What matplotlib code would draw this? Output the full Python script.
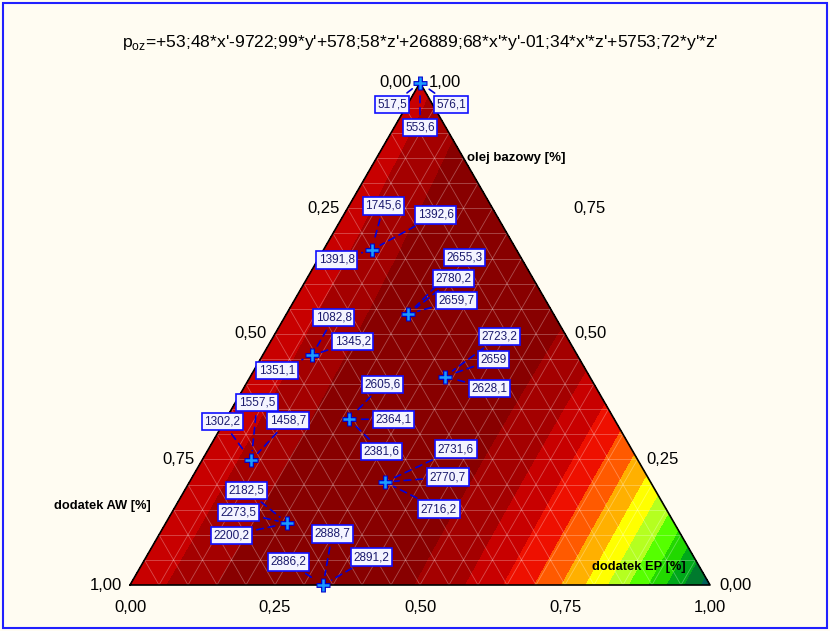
import numpy as np
import matplotlib
matplotlib.use("Agg")
import matplotlib.pyplot as plt
from matplotlib.tri import Triangulation
from matplotlib.patches import Rectangle

plt.rcParams["font.family"] = ["Liberation Sans", "DejaVu Sans"]
plt.rcParams["mathtext.fontset"] = "custom"
plt.rcParams["mathtext.rm"] = "Liberation Sans"

# design points: fractions of dodatek AW, dodatek EP, olej bazowy
aw = [0.0, 0.25, 0.25, 0.25, 0.458, 0.458, 0.667, 0.458, 0.667, 0.667]
ep = [0.0, 0.083, 0.21, 0.335, 0.085, 0.212, 0.085, 0.337, 0.21, 0.333]
oil = [1.0, 0.667, 0.54, 0.415, 0.457, 0.33, 0.248, 0.205, 0.123, 0.0]

# measured p_oz, three replicates per point
p_oz = [
    [517.5, 576.1, 553.6],
    [1745.6, 1392.6, 1391.8],
    [2655.3, 2780.2, 2659.7],
    [2723.2, 2659.0, 2628.1],
    [1082.8, 1345.2, 1351.1],
    [2605.6, 2364.1, 2381.6],
    [1557.5, 1458.7, 1302.2],
    [2731.6, 2770.7, 2716.2],
    [2182.5, 2273.5, 2200.2],
    [2888.7, 2886.2, 2891.2],
]

tick_values = [0.0, 0.25, 0.5, 0.75, 1.0]
levels = np.arange(-10000, 4001, 1000)
band_colors = ["#00605A", "#007A2E", "#00A81A", "#22D800", "#55FF00", "#B5FF20",
               "#FFFF00", "#FFB000", "#FF5A00", "#EE1000", "#C80000", "#A40000",
               "#880000", "#780000"]

# label box placement, pixels (right, down) from the marker
label_offsets = [
    [(-28, 22), (31, 22), (0, 45)],
    [(12, -44), (64, -35), (-35, 10)],
    [(56, -56), (45, -35), (48, -13)],
    [(55, -40), (49, -17), (45, 12)],
    [(22, -38), (41, -14), (-35, 15)],
    [(34, -35), (45, 0), (33, 32)],
    [(6, -58), (37, -40), (-29, -39)],
    [(71, -33), (63, -5), (54, 27)],
    [(-41, -33), (-49, -11), (-56, 12)],
    [(9, -51), (-35, -23), (48, -28)],
]

H = np.sqrt(3) / 2
S = 580.0  # pixels per unit side


def cart(a, e, o):
    a, e, o = np.asarray(a), np.asarray(e), np.asarray(o)
    return e + o / 2, o * H


def px(x, y):
    # figure pixel (from top-left) -> data coords
    return (x - 130) / S, (585 - y) / S


# quadratic Scheffe model fitted to the replicates
A, E, O, Y = [], [], [], []
for a, e, o, vals in zip(aw, ep, oil, p_oz):
    for v in vals:
        A.append(a); E.append(e); O.append(o); Y.append(v)
A, E, O, Y = map(np.array, (A, E, O, Y))
X = np.column_stack([A, E, O, A * E, A * O, E * O])
coef, *_ = np.linalg.lstsq(X, Y, rcond=None)

n = 20
ga, ge, go = [], [], []
for i in range(n + 1):
    for j in range(n + 1 - i):
        ge.append(i / n); go.append(j / n); ga.append(1 - i / n - j / n)
ga, ge, go = map(np.array, (ga, ge, go))
gz = np.column_stack([ga, ge, go, ga * ge, ga * go, ge * go]) @ coef
gx, gy = cart(ga, ge, go)
tri = Triangulation(gx, gy)

fig = plt.figure(figsize=(8.3, 6.31), dpi=100, facecolor="#FFFCF2")
ax = fig.add_axes([0, 0, 1, 1])
ax.set_facecolor("#FFFCF2")
ax.set_xlim(-130 / S, 700 / S)
ax.set_ylim((585 - 631) / S, 585 / S)
ax.axis("off")

ax.tricontourf(tri, np.clip(gz, -9999, 3999), levels=levels, colors=band_colors)

# grid
for t in np.arange(0.05, 1.0, 0.05):
    for p, q in [(cart(t, 0, 1 - t), cart(t, 1 - t, 0)),
                 (cart(0, t, 1 - t), cart(1 - t, t, 0)),
                 (cart(0, 1 - t, t), cart(1 - t, 0, t))]:
        ax.plot([p[0], q[0]], [p[1], q[1]], color="white", alpha=0.3, lw=0.6)

cx, cy = cart([1, 0, 0, 1], [0, 1, 0, 0], [0, 0, 1, 0])
ax.plot(cx, cy, color="black", lw=1.2)

# tick labels
for t in tick_values:
    lab = f"{t:.2f}".replace(".", ",")
    ax.annotate(lab, cart(t, 0, 1 - t), xytext=(-8, 0), textcoords="offset pixels",
                ha="right", va="center", fontsize=12)
    dx = 81 if t == 0.75 else 9
    ax.annotate(lab, cart(0, 1 - t, t), xytext=(dx, 0), textcoords="offset pixels",
                ha="left", va="center", fontsize=12)
    ax.annotate(lab, cart(1 - t, t, 0), xytext=(0, -22), textcoords="offset pixels",
                ha="center", va="center", fontsize=12)

ax.text(*px(467, 158), "olej bazowy [%]", fontsize=9.5, fontweight="bold", ha="left", va="center")
ax.text(*px(151, 506), "dodatek AW [%]", fontsize=9.3, fontweight="bold", ha="right", va="center")
ax.text(*px(592, 567), "dodatek EP [%]", fontsize=9.3, fontweight="bold", ha="left", va="center")

fig.text(0.506, 1 - 42 / 631,
         r"p$_{\mathrm{oz}}$=+53;48*x'-9722;99*y'+578;58*z'+26889;68*x'*y'-01;34*x'*z'+5753;72*y'*z'",
         ha="center", va="center", fontsize=12.6)

# data points and value labels
mx, my = cart(aw, ep, oil)
for (x0, y0), vals, offs in zip(zip(mx, my), p_oz, label_offsets):
    for v, (dx, dy) in zip(vals, offs):
        ax.annotate(f"{v:g}".replace(".", ","), (x0, y0), xytext=(dx, -dy),
                    textcoords="offset pixels", ha="center", va="center",
                    fontsize=8.5, color="#1A1A6E",
                    bbox=dict(boxstyle="square,pad=0.22", fc="#F4F4FF", ec="#1010FF", lw=1.2),
                    arrowprops=dict(arrowstyle="-", color="#0000DD", lw=1.2,
                                    linestyle=(0, (4, 3)), shrinkA=3, shrinkB=7))
ax.plot(mx, my, "+", color="#0000CC", ms=10, mew=3.5, clip_on=False)
ax.plot(mx, my, "+", color="#1A9BFF", ms=9, mew=1.8, clip_on=False)

fig.patches.append(Rectangle((0.004, 0.005), 0.992, 0.99, transform=fig.transFigure,
                             fill=False, ec="#2020FF", lw=1.5))

fig.savefig("out.png", dpi=100, facecolor=fig.get_facecolor())
